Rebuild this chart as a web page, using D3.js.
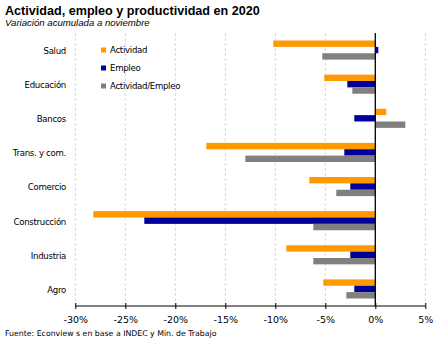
<!DOCTYPE html>
<html>
<head>
<meta charset="utf-8">
<script src="https://cdn.jsdelivr.net/npm/d3@7"></script>
<style>
body { margin: 0; background: #fff; }
svg { font-family: "DejaVu Sans", Verdana, sans-serif; }
</style>
</head>
<body>
<div id="chart"></div>
<script>
var width = 443,
    height = 340;

var categories = ['Salud', 'Educación', 'Bancos', 'Trans. y com.', 'Comercio', 'Construcción', 'Industria', 'Agro'];
var seriesNames = ['Actividad', 'Empleo', 'Actividad/Empleo'];
var actividad = [-10.2, -5.1, 1.1, -16.9, -6.6, -28.2, -8.9, -5.2];
var empleo = [0.3, -2.8, -2.1, -3.1, -2.5, -23.1, -2.5, -2.1];
var actEmpleo = [-5.3, -2.3, 3.0, -13.0, -3.9, -6.2, -6.2, -2.9];
var tickValues = [-30, -25, -20, -15, -10, -5, 0, 5];
var colors = ['#ff9900', '#000099', '#808080'];

var series = [actividad, empleo, actEmpleo];

var svg = d3.select('#chart').append('svg')
    .attr('width', width)
    .attr('height', height);

// plot area
var plotLeft = 75.3, plotRight = 425.3, plotTop = 33, plotBottom = 306;

var x = d3.scaleLinear().domain([-30, 5]).range([plotLeft, plotRight]);
var y = d3.scaleBand().domain(categories).range([plotTop, plotBottom]).paddingInner(0.44).paddingOuter(0.22);
var ySub = d3.scaleBand().domain(d3.range(3)).range([0, y.bandwidth()]);

// title
svg.append('text')
    .attr('x', 5).attr('y', 15)
    .style('font-family', '"Liberation Sans", Arial, sans-serif')
    .style('font-weight', 'bold')
    .style('font-size', '12.6px')
    .attr('fill', '#000')
    .text('Actividad, empleo y productividad en 2020');

svg.append('text')
    .attr('x', 5).attr('y', 26)
    .style('font-family', '"Liberation Sans", Arial, sans-serif')
    .style('font-style', 'italic')
    .style('font-size', '9.6px')
    .text('Variación acumulada a noviembre');

// dashed gridlines
svg.append('g')
    .selectAll('line')
    .data(tickValues.filter(function (d) { return d !== 0; }))
    .enter().append('line')
    .attr('x1', function (d) { return x(d); })
    .attr('x2', function (d) { return x(d); })
    .attr('y1', plotTop)
    .attr('y2', plotBottom)
    .attr('stroke', '#d9d9d9')
    .attr('stroke-width', 1)
    .attr('stroke-dasharray', '3,2');

// bars
series.forEach(function (vals, s) {
    svg.append('g')
        .selectAll('rect')
        .data(vals)
        .enter().append('rect')
        .attr('x', function (d) { return x(Math.min(0, d)); })
        .attr('width', function (d) { return Math.abs(x(d) - x(0)); })
        .attr('y', function (d, i) { return y(categories[i]) + ySub(s); })
        .attr('height', ySub.bandwidth())
        .attr('fill', colors[s]);
});

// zero line
svg.append('line')
    .attr('x1', x(0)).attr('x2', x(0))
    .attr('y1', plotTop).attr('y2', plotBottom)
    .attr('stroke', '#000')
    .attr('stroke-width', 1.3);

// x axis
var xAxis = svg.append('g')
    .attr('transform', 'translate(0,' + plotBottom + ')')
    .call(d3.axisBottom(x).tickValues(tickValues).tickSize(3)
        .tickFormat(function (d) { return d + '%'; }));
xAxis.select('.domain').attr('stroke', '#000').attr('d', 'M' + plotLeft + ',0H' + plotRight);
xAxis.selectAll('.tick line').attr('y1', -3).attr('y2', 3).attr('stroke', '#000');
xAxis.selectAll('.tick text')
    .attr('y', 10)
    .style('font-size', '9.5px')
    .style('font-family', '"DejaVu Sans", Verdana, sans-serif')
    .attr('fill', '#000');

// category labels
svg.append('g')
    .selectAll('text')
    .data(categories)
    .enter().append('text')
    .attr('x', 66)
    .attr('y', function (d) { return y(d) + y.bandwidth() / 2; })
    .attr('dy', '0.45em')
    .attr('text-anchor', 'end')
    .style('font-size', '8.6px')
    .style('letter-spacing', '-0.3px')
    .text(function (d) { return d; });

// legend
var legend = svg.append('g')
    .selectAll('g')
    .data(seriesNames)
    .enter().append('g')
    .attr('transform', function (d, i) { return 'translate(101,' + (50 + i * 18) + ')'; });

legend.append('rect')
    .attr('x', 0).attr('y', -2.5)
    .attr('width', 5).attr('height', 5)
    .attr('fill', function (d, i) { return colors[i]; });

legend.append('text')
    .attr('x', 9)
    .attr('dy', '0.4em')
    .style('font-size', '8.6px')
    .style('letter-spacing', '-0.3px')
    .text(function (d) { return d; });

// source
svg.append('text')
    .attr('x', 5).attr('y', 336)
    .style('font-size', '7.8px')
    .text('Fuente: Econview s en base a INDEC y Min. de Trabajo');
</script>
</body>
</html>
